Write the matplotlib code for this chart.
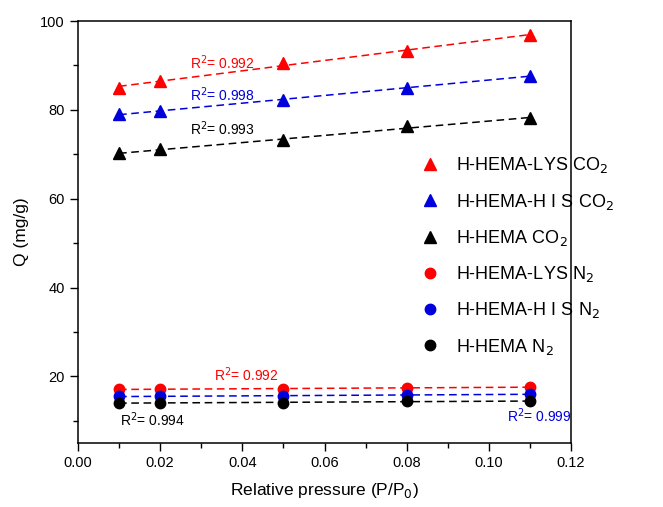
import numpy as np
import matplotlib
matplotlib.use("Agg")
import matplotlib.pyplot as plt
from matplotlib.ticker import MultipleLocator

plt.rcParams['font.family'] = ['Liberation Sans', 'DejaVu Sans']

x = [0.01, 0.02, 0.05, 0.08, 0.11]
lys_co2 = [85.0, 86.4, 90.6, 93.3, 96.8]
his_co2 = [79.0, 79.7, 82.3, 85.0, 87.6]
hema_co2 = [70.2, 71.1, 73.1, 76.3, 78.1]
lys_n2 = [17.1, 17.1, 17.2, 17.4, 17.6]
his_n2 = [15.5, 15.5, 15.6, 15.8, 16.0]
hema_n2 = [14.0, 14.0, 14.1, 14.4, 14.4]

labels = ["H-HEMA-LYS CO$_2$", "H-HEMA-H I S CO$_2$", "H-HEMA CO$_2$",
          "H-HEMA-LYS N$_2$", "H-HEMA-H I S N$_2$", "H-HEMA N$_2$"]
series = [lys_co2, his_co2, hema_co2, lys_n2, his_n2, hema_n2]
colors = ["#ff0000", "#0000dd", "#000000", "#ff0000", "#0000dd", "#000000"]
markers = ["^", "^", "^", "o", "o", "o"]
r2_text = ["0.992", "0.998", "0.993", "0.992", "0.999", "0.994"]
r2_pos = [(0.0272, 90.7), (0.0272, 83.3), (0.0272, 75.8),
          (0.033, 20.4), (0.1045, 11.2), (0.0102, 10.35)]

fig = plt.figure(figsize=(6.63, 5.07), dpi=100)
ax = fig.add_axes([78/663, 1-443/507, (571-78)/663, (443-21)/507])

xa = np.array(x)
xl = np.linspace(min(x), max(x), 50)
for ys, lab, c, m in zip(series, labels, colors, markers):
    coef = np.polyfit(xa, np.array(ys), 1)
    ax.plot(xl, np.polyval(coef, xl), ls=(0, (5, 3)), color=c, lw=1.1)
    ax.plot(x, ys, ls='none', marker=m, color=c, markersize=8 if m == '^' else 7.5,
            label=lab)

for (tx, ty), t, c in zip(r2_pos, r2_text, colors):
    ax.text(tx, ty, "R$^2$= " + t, color=c, fontsize=10, va='center', ha='left')

ax.set_xlim(0, 0.12)
ax.set_ylim(5, 100)
ax.xaxis.set_major_locator(MultipleLocator(0.02))
ax.xaxis.set_minor_locator(MultipleLocator(0.01))
ax.yaxis.set_major_locator(MultipleLocator(20))
ax.yaxis.set_minor_locator(MultipleLocator(10))
ax.set_yticks([20, 40, 60, 80, 100])
ax.xaxis.set_major_formatter(matplotlib.ticker.FormatStrFormatter('%.2f'))
ax.tick_params(which='major', direction='out', length=6, width=1, labelsize=10.5)
ax.tick_params(which='minor', direction='out', length=3.5, width=1)
for s in ax.spines.values():
    s.set_linewidth(1.1)

ax.set_xlabel("Relative pressure (P/P$_0$)", fontsize=12.5, labelpad=8)
ax.set_ylabel("Q (mg/g)", fontsize=12.5, labelpad=8)

leg = ax.legend(loc='upper left', bbox_to_anchor=(0.66, 0.72), frameon=False,
                fontsize=13, handletextpad=0.8, labelspacing=0.9,
                handlelength=1.2, markerscale=1.0)

fig.savefig("out.png", dpi=100)
